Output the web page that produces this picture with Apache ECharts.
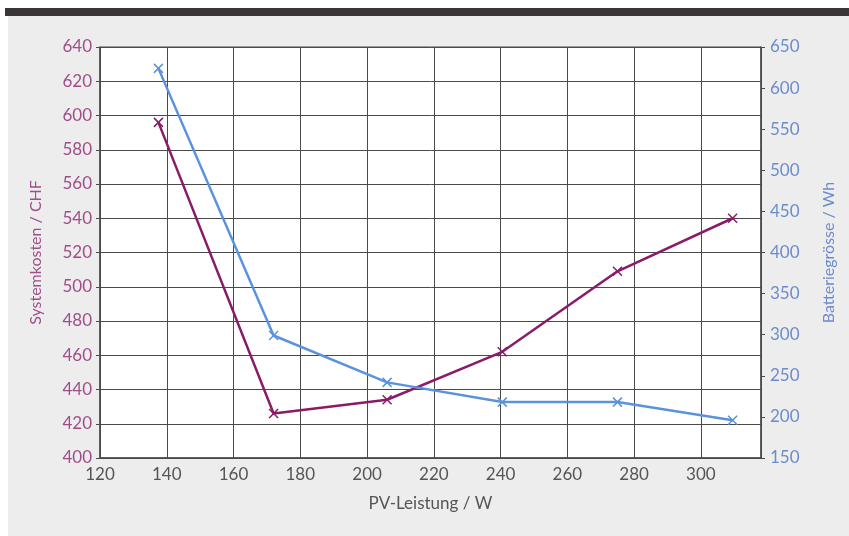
<!DOCTYPE html>
<html>
<head>
<meta charset="utf-8">
<script src="https://cdn.jsdelivr.net/npm/echarts@6/dist/echarts.min.js"></script>
<style>
  html, body { margin: 0; padding: 0; background: #ffffff; }
  #chart { width: 849px; height: 536px; }
</style>
</head>
<body>
<div id="chart"></div>
<script>
// PV-Leistung (W) der Messpunkte
var pvLeistung = [137.5, 172, 206, 240.5, 275, 309.5];
// Systemkosten in CHF (linke Achse)
var systemkosten = [596, 426, 434, 462, 509, 540];
// Batteriegrösse in Wh (rechte Achse)
var batteriegroesse = [624, 299, 242, 218, 218, 196];

var purple = "#8a1b69";
var purpleText = "#a04e88";
var blue = "#5a93dc";
var blueText = "#6b8ccb";
var gridColor = "#4a4a4a";
var fontName = "Lato";

var crossSymbol = "path://M0,0L10,10M10,0L0,10";

function pairs(xs, ys) {
    var out = [];
    for (var i = 0; i < xs.length; i++) {
        out.push([xs[i], ys[i]]);
    }
    return out;
}

var chart = echarts.init(document.getElementById("chart"));
chart.setOption({
    backgroundColor: "#ffffff",
    animation: false,
    textStyle: { fontFamily: fontName },
    graphic: [
        // grauer Hintergrund der Abbildung
        { type: "rect", z: -10, shape: { x: 8, y: 16, width: 841, height: 520 }, style: { fill: "#ededee" } },
        // dunkler Balken oben
        { type: "rect", z: -9, shape: { x: 5, y: 8, width: 844, height: 8 }, style: { fill: "#3a3536" } }
    ],
    grid: {
        left: 100,
        right: 88,
        top: 47,
        bottom: 78,
        show: true,
        backgroundColor: "#ffffff",
        borderColor: gridColor,
        borderWidth: 1
    },
    xAxis: {
        type: "value",
        min: 120,
        max: 318,
        interval: 20,
        name: "PV-Leistung / W",
        nameLocation: "middle",
        nameGap: 37,
        nameTextStyle: { color: "#555555", fontSize: 17, fontFamily: fontName },
        axisLine: { show: true, lineStyle: { color: gridColor, width: 1.5 } },
        axisTick: { show: false },
        axisLabel: { color: "#555555", fontSize: 17, margin: 8, showMaxLabel: false },
        splitLine: { show: true, lineStyle: { color: gridColor, width: 1 } }
    },
    yAxis: [
        {
            type: "value",
            position: "left",
            min: 400,
            max: 640,
            interval: 20,
            name: "Systemkosten / CHF",
            nameLocation: "middle",
            nameGap: 56,
            nameTextStyle: { color: purpleText, fontSize: 16, fontFamily: fontName },
            axisLine: { show: true, lineStyle: { color: gridColor, width: 1.5 } },
            axisTick: { show: true, length: 4, lineStyle: { color: gridColor } },
            axisLabel: { color: purpleText, fontSize: 17, margin: 8 },
            splitLine: { show: true, lineStyle: { color: gridColor, width: 1 } }
        },
        {
            type: "value",
            position: "right",
            min: 150,
            max: 650,
            interval: 50,
            name: "Batteriegrösse / Wh",
            nameLocation: "middle",
            nameGap: 60,
            nameRotate: 90,
            nameTextStyle: { color: blueText, fontSize: 16, fontFamily: fontName },
            axisLine: { show: true, lineStyle: { color: gridColor, width: 1.5 } },
            axisTick: { show: true, length: 4, lineStyle: { color: gridColor } },
            axisLabel: { color: blueText, fontSize: 17, margin: 9 },
            splitLine: { show: false }
        }
    ],
    series: [
        {
            name: "Systemkosten",
            type: "line",
            yAxisIndex: 0,
            data: pairs(pvLeistung, systemkosten),
            smooth: false,
            symbol: crossSymbol,
            symbolSize: 9,
            lineStyle: { color: purple, width: 2.5 },
            itemStyle: { color: purple, borderColor: purple, borderWidth: 1.5 }
        },
        {
            name: "Batteriegrösse",
            type: "line",
            yAxisIndex: 1,
            data: pairs(pvLeistung, batteriegroesse),
            smooth: false,
            symbol: crossSymbol,
            symbolSize: 9,
            lineStyle: { color: blue, width: 2.5 },
            itemStyle: { color: blue, borderColor: blue, borderWidth: 1.5 }
        }
    ]
});
</script>
</body>
</html>
